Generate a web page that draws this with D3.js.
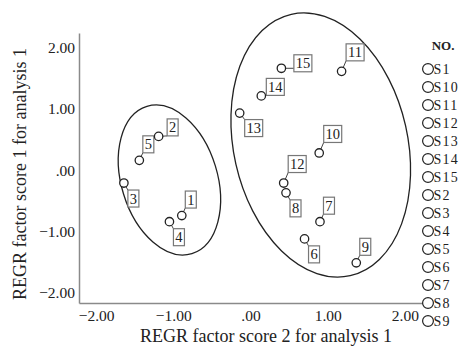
<!DOCTYPE html>
<html>
<head>
<meta charset="utf-8">
<script src="https://cdn.jsdelivr.net/npm/d3@7/dist/d3.min.js"></script>
<style>
  body { margin: 0; background: #fff; }
  svg { font-family: "Liberation Serif", "Times New Roman", serif; }
</style>
</head>
<body>
<svg width="463" height="351"></svg>
<script>
// case numbers and their factor scores
const CASES = ['1','2','3','4','5','6','7','8','9','10','11','12','13','14','15'];
const SCORE2 = [-0.89, -1.19, -1.64, -1.05, -1.44, 0.70, 0.90, 0.46, 1.37, 0.89, 1.18, 0.43, -0.14, 0.14, 0.40];
const SCORE1 = [-0.74, 0.55, -0.21, -0.84, 0.16, -1.12, -0.84, -0.37, -1.51, 0.28, 1.61, -0.21, 0.93, 1.21, 1.66];
const TICKS = [-2, -1, 0, 1, 2];
// legend keys, in the order SPSS sorts them
const LEGEND = ['S1','S10','S11','S12','S13','S14','S15','S2','S3','S4','S5','S6','S7','S8','S9'];

// group outlines drawn round the clusters (centre in score units)
const GROUP_CX = [-1.05, 0.91];
const GROUP_CY = [-0.16, 0.41];

// where each number box sits relative to its point
const labelSide = ['ne','ne2','se','se','ne','se','ne','se','ne','ne3','ne3','ne3','se2','ne2','e'];

const svg = d3.select('svg');

const x = d3.scaleLinear().domain([-2.2215, 2.2345]).range([79, 423]);
const y = d3.scaleLinear().domain([-2.165, 2.235]).range([303, 33]);

const fmt = v => v === 0 ? '.00' : d3.format('.2f')(v);

// axes
const xAxis = svg.append('g')
    .attr('transform', 'translate(0,303)')
    .call(d3.axisBottom(x).tickValues(TICKS).tickFormat(fmt).tickSize(0).tickPadding(7));
const yAxis = svg.append('g')
    .attr('transform', 'translate(79,0)')
    .call(d3.axisLeft(y).tickValues(TICKS).tickFormat(fmt).tickSize(0).tickPadding(4));

[xAxis, yAxis].forEach(a => {
    a.select('.domain').attr('stroke', '#8a8a8a').attr('stroke-width', 1.5);
    a.selectAll('text')
        .attr('font-family', '"Liberation Serif", serif')
        .attr('font-size', 15.5)
        .attr('fill', '#222');
});

svg.append('text')
    .attr('x', 266).attr('y', 342)
    .attr('text-anchor', 'middle')
    .attr('font-size', 18).attr('fill', '#222')
    .text('REGR factor score 2 for analysis 1');

svg.append('text')
    .attr('transform', 'translate(26,174) rotate(-90)')
    .attr('text-anchor', 'middle')
    .attr('font-size', 18).attr('fill', '#222')
    .text('REGR factor score 1 for analysis 1');

// cluster ellipses
const groupShape = [
    { rx: 48, ry: 77, rot: -17 },
    { rx: 87, ry: 134, rot: -12.7 }
];
GROUP_CX.forEach((cx, i) => {
    svg.append('ellipse')
        .attr('transform', `translate(${x(cx)},${y(GROUP_CY[i])}) rotate(${groupShape[i].rot})`)
        .attr('rx', groupShape[i].rx)
        .attr('ry', groupShape[i].ry)
        .attr('fill', 'none')
        .attr('stroke', '#222')
        .attr('stroke-width', 1.3);
});

// label box offsets
const sideOffset = {
    ne: [9, -16], ne2: [14, -9], ne3: [13.5, -19],
    se: [9.5, 15.5], se2: [14, 15], e: [21.5, -5]
};

const pts = CASES.map((c, i) => {
    const px = x(SCORE2[i]), py = y(SCORE1[i]);
    const off = sideOffset[labelSide[i]];
    const w = c.length > 1 ? 18 : 11, h = 17;
    return { c, px, py, bx: px + off[0], by: py + off[1], w, h };
});

const lab = svg.append('g');
pts.forEach(d => {
    // connector to nearest point of the box
    const nx = Math.max(d.bx - d.w / 2, Math.min(d.px, d.bx + d.w / 2));
    const ny = Math.max(d.by - d.h / 2, Math.min(d.py, d.by + d.h / 2));
    lab.append('line')
        .attr('x1', d.px).attr('y1', d.py)
        .attr('x2', nx).attr('y2', ny)
        .attr('stroke', '#444').attr('stroke-width', 1);
    lab.append('rect')
        .attr('x', d.bx - d.w / 2).attr('y', d.by - d.h / 2)
        .attr('width', d.w).attr('height', d.h)
        .attr('fill', '#fff')
        .attr('stroke', '#777').attr('stroke-width', 1.2);
    lab.append('text')
        .attr('x', d.bx).attr('y', d.by + 5)
        .attr('text-anchor', 'middle')
        .attr('font-size', 14.5).attr('fill', '#222')
        .text(d.c);
});

svg.append('g').selectAll('circle')
    .data(pts)
    .enter()
    .append('circle')
    .attr('cx', d => d.px)
    .attr('cy', d => d.py)
    .attr('r', 4.2)
    .attr('fill', '#fff')
    .attr('stroke', '#222')
    .attr('stroke-width', 1.3);

// legend
const leg = svg.append('g');
leg.append('text')
    .attr('x', 443).attr('y', 50)
    .attr('text-anchor', 'middle')
    .attr('font-size', 13).attr('font-weight', 'bold').attr('fill', '#222')
    .text('NO.');
const legY = d3.scalePoint().domain(LEGEND).range([69, 321]);
const items = leg.selectAll('.item')
    .data(LEGEND)
    .enter()
    .append('g')
    .classed('item', true)
    .attr('transform', d => `translate(428,${legY(d)})`);
items.append('circle')
    .attr('r', 5.4)
    .attr('fill', '#fff')
    .attr('stroke', '#222')
    .attr('stroke-width', 1.2);
items.append('text')
    .attr('x', 5.5).attr('y', 5)
    .attr('font-size', 14).attr('letter-spacing', 1.2).attr('fill', '#222')
    .text(d => d);
</script>
</body>
</html>
